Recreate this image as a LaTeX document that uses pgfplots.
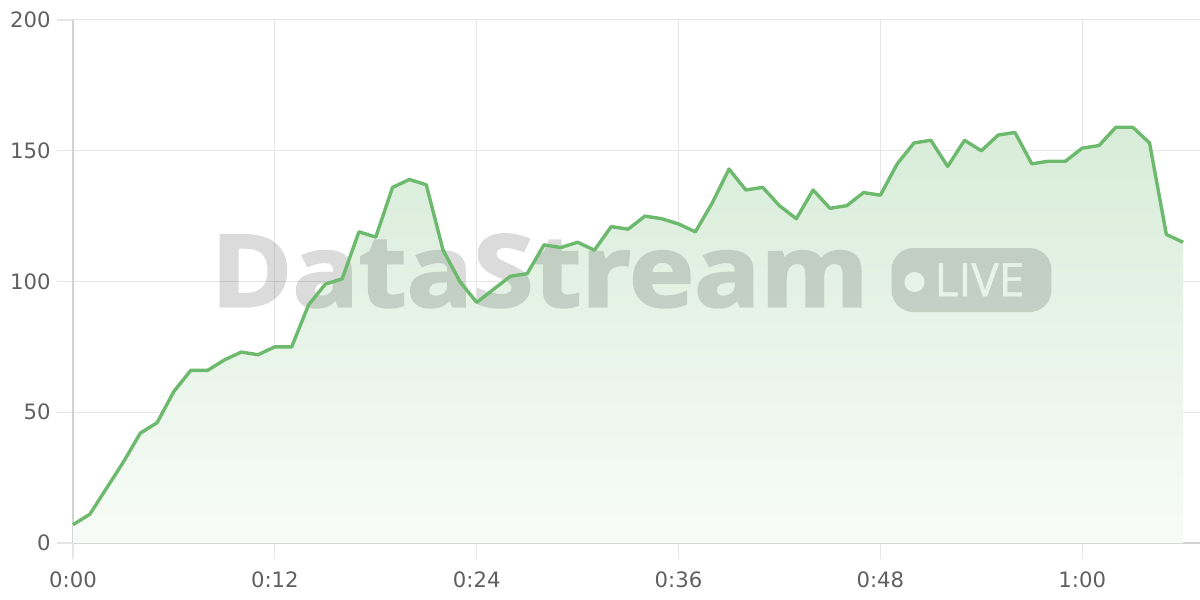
\documentclass[border=0pt]{standalone}
\usepackage{fontspec}
\setmainfont{DejaVu Sans}
\newfontfamily\wmfont{Open Sans}[BoldFeatures={FakeBold=2.2}]
\usepackage{pgfplots}
\usepackage{pgfplotstable}
\pgfplotsset{compat=1.18}
\definecolor{linegreen}{HTML}{6DBA6F}
\definecolor{gridc}{RGB}{230,230,230}
\definecolor{axisc}{RGB}{210,210,210}
\definecolor{tickc}{RGB}{95,95,95}
\pgfplotstableread{
t v
0 7
1 11
2 21
3 31
4 42
5 46
6 58
7 66
8 66
9 70
10 73
11 72
12 75
13 75
14 91
15 99
16 101
17 119
18 117
19 136
20 139
21 137
22 112
23 100
24 92
25 97
26 102
27 103
28 114
29 113
30 115
31 112
32 121
33 120
34 125
35 124
36 122
37 119
38 130
39 143
40 135
41 136
42 129
43 124
44 135
45 128
46 129
47 134
48 133
49 145
50 153
51 154
52 144
53 154
54 150
55 156
56 157
57 145
58 146
59 146
60 151
61 152
62 159
63 159
64 153
65 118
66 115
}\datatable
\begin{document}
\begin{tikzpicture}
\begin{axis}[
  name=ax, at={(0,0)}, anchor=south west,
  scale only axis, width=563.5pt, height=261.5pt,
  xmin=0, xmax=67, ymin=0, ymax=200,
  xtick={0,12,24,36,48,60}, xticklabels={0:00,0:12,0:24,0:36,0:48,1:00},
  ytick={0,50,100,150,200}, yticklabels={0,50,100,150,200},
  grid=major, major grid style={gridc, line width=0.5pt},
  axis x line*=bottom, axis y line*=left,
  x axis line style={-, axisc, line width=0.8pt},
  y axis line style={-, axisc, line width=0.8pt},
  tick align=outside, major tick length=8pt,
  major tick style={draw=gridc, line width=0.6pt},
  tick label style={font=\fontsize{10.6}{13}\selectfont, text=tickc},
  yticklabel style={xshift=0.3pt},
  xticklabel style={yshift=-3pt},
  clip=false,
]
\addplot[draw=none, top color=linegreen!27, bottom color=linegreen!5] table[x=t,y=v]{\datatable} \closedcycle;
\begin{scope}[transparency group, opacity=0.14]
  \node[font=\wmfont\bfseries\fontsize{50}{50}\selectfont, text=black, inner sep=0, anchor=base] at (axis cs:27.75,90.4) {\scalebox{1.1}[1]{DataStream}};
  \fill[black, rounded corners=11pt] (axis cs:48.66,88.3) rectangle (axis cs:58.17,112.8);
  \fill[white] (axis cs:50.03,99.8) circle[radius=5pt];
  \node[font=\wmfont\fontsize{23}{23}\selectfont, text=white, inner sep=0, anchor=base] at (axis cs:53.89,94.4) {\addfontfeatures{FakeBold=1}LIVE};
\end{scope}
\addplot[linegreen, line width=1.7pt, line join=round] table[x=t,y=v]{\datatable};
\end{axis}
\pgfresetboundingbox
\path (-36.5pt,-28.5pt) rectangle (563.5pt,271.5pt);
\end{tikzpicture}
\end{document}
